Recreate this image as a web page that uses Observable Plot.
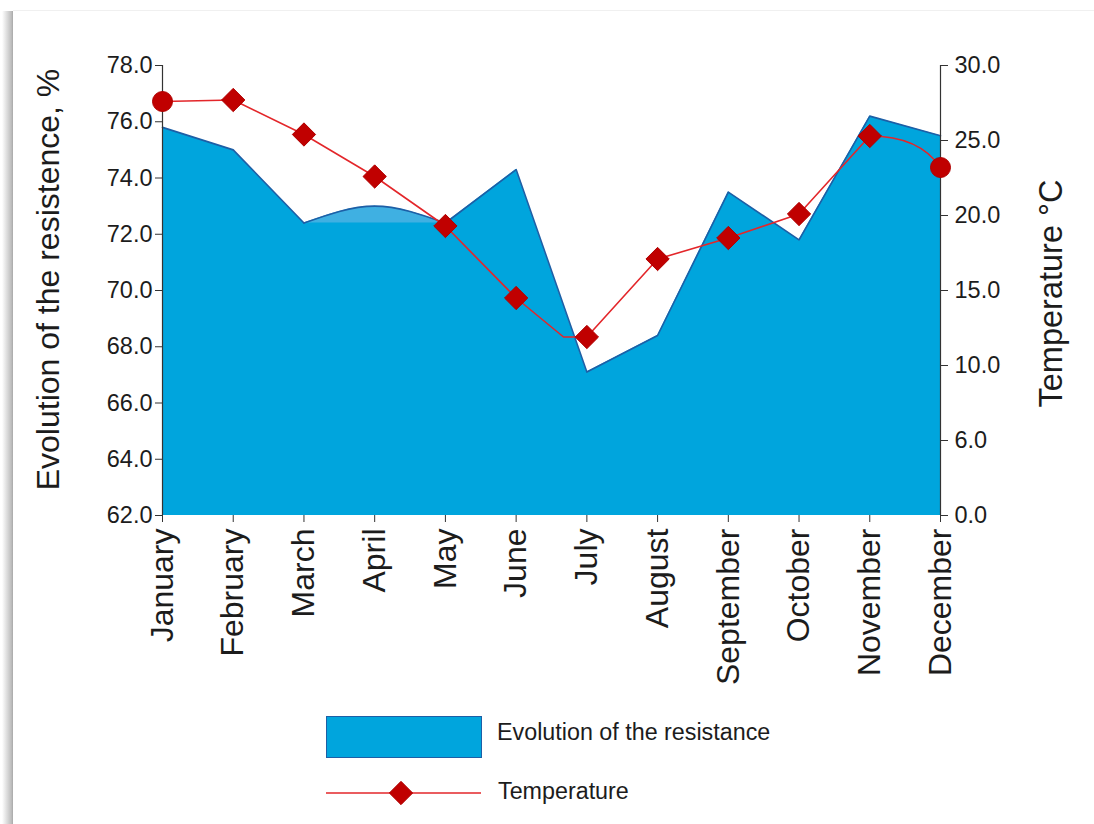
<!DOCTYPE html>
<html>
<head>
<meta charset="utf-8">
<script src="https://cdn.jsdelivr.net/npm/d3@7"></script>
<script src="https://cdn.jsdelivr.net/npm/@observablehq/plot@0.6"></script>
<style>
  html, body { margin: 0; padding: 0; background: #fff; }
  body { width: 1094px; height: 824px; position: relative; overflow: hidden; font-family: "Liberation Sans", Arial, sans-serif; }
  #shadow { position: absolute; left: 2px; top: 11px; width: 11px; height: 813px;
            background: linear-gradient(to right, rgba(255,255,255,0), #bdbdbd 85%, #a8a8a8); }
  #topline { position: absolute; left: 13px; top: 10px; width: 1081px; height: 1px; background: #f0f0f0; }
  #chart { position: absolute; left: 0; top: 0; }
  #legend { position: absolute; left: 0; top: 700px; }
</style>
</head>
<body>
<div id="shadow"></div>
<div id="topline"></div>
<div id="chart"></div>
<div id="legend"></div>
<script>
const months = ["January","February","March","April","May","June","July","August","September","October","November","December"];
const resistance = [75.8, 75.0, 72.4, 73.0, 72.4, 74.3, 67.1, 68.4, 73.5, 71.8, 76.2, 75.5];
const temperature = [27.6, 27.7, 25.4, 22.6, 19.3, 14.5, 11.9, 17.1, 18.5, 20.1, 25.3, 23.2];
const resTicks = [62, 64, 66, 68, 70, 72, 74, 76, 78];
const tempTicks = [0, 5, 10, 15, 20, 25, 30];
const tempTickLabels = ["0.0", "6.0", "10.0", "15.0", "20.0", "25.0", "30.0"];
const resDomain = [62, 78];
const tempDomain = [0, 30];
const leftTitle = "Evolution of the resistence, %";
const rightTitle = "Temperature \u00B0C";
const legendLabels = ["Evolution of the resistance", "Temperature"];

const toRes = t => resDomain[0] + (t - tempDomain[0]) * (resDomain[1] - resDomain[0]) / (tempDomain[1] - tempDomain[0]);
const data = months.map((m, i) => ({month: m, res: resistance[i], temp: toRes(temperature[i]), i}));
const last = months.length - 1;
const archBase = Math.min(resistance[2], resistance[4]);

const fillBlue = "#00a5dd";
const archBlue = "#3fb0e2";
const edgeBlue = "#1d5fa6";
const red = "#e3262a";
const darkRed = "#c00000";
const ink = "#1c1c1c";

// Mostly straight curve: levels out into a local minimum, arcs from a local maximum into the last point
function curveTemp(context) {
  let pts;
  return {
    areaStart() {}, areaEnd() {},
    lineStart() { pts = []; },
    point(x, y) { pts.push([+x, +y]); },
    lineEnd() {
      const n = pts.length;
      if (!n) return;
      context.moveTo(pts[0][0], pts[0][1]);
      for (let k = 1; k < n; k++) {
        const [x0, y0] = pts[k - 1], [x1, y1] = pts[k];
        const next = pts[k + 1], prev = pts[k - 2];
        const intoMin = next && y1 > y0 && y1 > next[1];
        const fromMax = !next && prev && y0 < prev[1] && y0 < y1;
        if (intoMin) { context.lineTo(x1 - (x1 - x0) * 0.33, y1); context.lineTo(x1, y1); }
        else if (fromMax) { context.quadraticCurveTo(x0 + (x1 - x0) * 0.7, y0, x1, y1); }
        else context.lineTo(x1, y1);
      }
    }
  };
}

const chart = Plot.plot({
  width: 1094,
  height: 700,
  marginLeft: 162,
  marginRight: 154,
  marginTop: 65,
  marginBottom: 185,
  style: {fontFamily: "'Liberation Sans', Arial, sans-serif", color: ink, background: "transparent", overflow: "visible"},
  x: {type: "point", domain: months, padding: 0, round: false},
  y: {domain: resDomain},
  marks: [
    Plot.areaY(data, {x: "month", y1: resDomain[0], y2: "res", fill: fillBlue, curve: "linear"}),
    Plot.areaY(data, {x: "month", y1: archBase, y2: "res", filter: d => d.i >= 2 && d.i <= 4, fill: archBlue, curve: "natural"}),
    Plot.line(data, {x: "month", y: "res", filter: d => d.i <= 2, stroke: edgeBlue, strokeWidth: 1.6}),
    Plot.line(data, {x: "month", y: "res", filter: d => d.i >= 4, stroke: edgeBlue, strokeWidth: 1.6}),
    Plot.line(data, {x: "month", y: "res", filter: d => d.i >= 2 && d.i <= 4, stroke: edgeBlue, strokeWidth: 1.6, curve: "natural"}),
    // axis lines
    Plot.ruleX([months[0]], {y1: resDomain[0], y2: resDomain[1], stroke: "#333", strokeWidth: 1.2}),
    Plot.ruleX([months[last]], {y1: resDomain[0], y2: resDomain[1], stroke: "#333", strokeWidth: 1.2}),
    Plot.axisY({anchor: "left", ticks: resTicks, tickFormat: d => d.toFixed(1), tickSize: 7, tickPadding: 3, fontSize: 23.5, label: null, stroke: "#333", color: ink}),
    Plot.axisY({anchor: "right", ticks: tempTicks.map(toRes), tickFormat: (d, i) => tempTickLabels[i], tickSize: 7, tickPadding: 7, fontSize: 23.5, label: null, stroke: "#333", color: ink}),
    Plot.axisX({anchor: "bottom", tickRotate: -90, tickSize: 7, tickPadding: 6, fontSize: 32, label: null, stroke: "#333", color: ink}),
    // temperature
    Plot.line(data, {x: "month", y: "temp", stroke: red, strokeWidth: 1.6, curve: curveTemp}),
    Plot.dot(data, {x: "month", y: "temp", filter: d => d.i === 0 || d.i === last, symbol: "circle", r: 10, fill: darkRed, stroke: "#b00000", strokeWidth: 1}),
    Plot.dot(data, {x: "month", y: "temp", filter: d => d.i !== 0 && d.i !== last, symbol: "diamond2", r: 10.5, fill: darkRed, stroke: "#b00000", strokeWidth: 1}),
    // axis titles
    Plot.text([leftTitle], {text: d => d, frameAnchor: "left", dx: -114, dy: -11, rotate: -90, textAnchor: "middle", lineAnchor: "middle", fontSize: 32, fill: ink}),
    Plot.text([rightTitle], {text: d => d, frameAnchor: "right", dx: 111, dy: 3, rotate: -90, textAnchor: "middle", lineAnchor: "middle", fontSize: 32.5, fill: ink})
  ]
});
document.getElementById("chart").appendChild(chart);

// Legend (drawn below the plot SVG)
const ns = "http://www.w3.org/2000/svg";
const lg = document.createElementNS(ns, "svg");
lg.setAttribute("width", 1094);
lg.setAttribute("height", 124);
lg.style.fontFamily = "'Liberation Sans', Arial, sans-serif";
function el(tag, attrs) { const e = document.createElementNS(ns, tag); for (const k in attrs) e.setAttribute(k, attrs[k]); lg.appendChild(e); return e; }
el("rect", {x: 326.5, y: 16.5, width: 155, height: 41, fill: fillBlue, stroke: edgeBlue, "stroke-width": 1});
const t1 = el("text", {x: 497, y: 34, "font-size": 23.3, fill: ink, "dominant-baseline": "middle"}); t1.textContent = legendLabels[0];
el("line", {x1: 326, x2: 481, y1: 93, y2: 93, stroke: red, "stroke-width": 1.6});
el("path", {d: d3.symbol(d3.symbolDiamond2, Math.PI * 10.5 * 10.5)(), transform: "translate(401,93)", fill: darkRed, stroke: "#b00000"});
const t2 = el("text", {x: 498, y: 93, "font-size": 23.3, fill: ink, "dominant-baseline": "middle"}); t2.textContent = legendLabels[1];
document.getElementById("legend").appendChild(lg);
</script>
</body>
</html>
